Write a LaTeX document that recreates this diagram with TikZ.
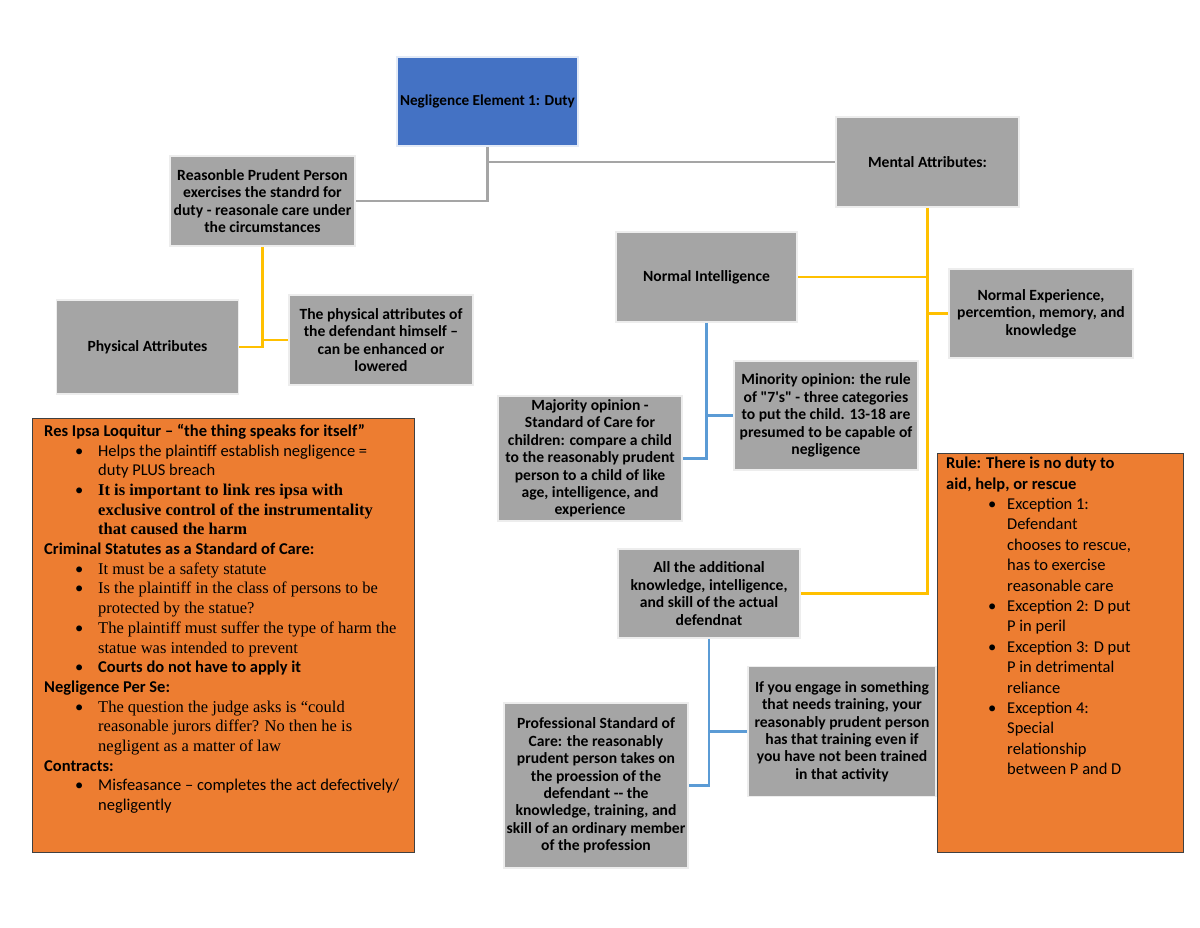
\documentclass[tikz,border=0pt]{standalone}
\usepackage{fontspec}
\setmainfont{Carlito}
\newfontfamily\carlitoplain{Carlito}[Ligatures=TeXOff]
\newfontfamily\cambriaf{Liberation Serif}
\definecolor{boxgray}{HTML}{A5A5A5}
\definecolor{boxedge}{HTML}{EDEDED}
\definecolor{duty}{HTML}{4472C4}
\definecolor{orng}{HTML}{ED7D31}
\definecolor{orngedge}{HTML}{404040}
\definecolor{ylw}{HTML}{FFC000}
\definecolor{lblue}{HTML}{5B9BD5}
\definecolor{lgray}{HTML}{A5A5A5}
\newcommand\bitem[1]{\hspace*{31pt}\makebox[23pt][l]{\textbullet}#1}
\newcommand\citem[1]{\hspace*{54pt}#1}
\newcommand\ritem[1]{\hspace*{42pt}\makebox[19pt][l]{\textbullet}#1}
\newcommand\rcont[1]{\hspace*{61pt}#1}
\begin{document}
\begin{tikzpicture}[x=1pt,y=-1pt,
  gbox/.style={fill=boxgray,draw=boxedge,line width=1.5pt,align=center,
    font=\bfseries\fontsize{15.6}{17.4}\selectfont,inner sep=1pt},
  obox/.style={fill=orng,draw=orngedge,line width=0.9pt},
  gline/.style={draw=lgray,line width=2.6pt},
  yline/.style={draw=ylw,line width=2.4pt},
  bline/.style={draw=lblue,line width=2.4pt}]
\useasboundingbox (0,0) rectangle (1200,927);
% boxes
\node[fill=duty,draw=white!85!duty,line width=1.5pt,minimum width=181pt,minimum height=89pt,
  font=\bfseries\fontsize{15.2}{16}\selectfont,inner sep=0pt] (duty) at (487.5,101.5) {Negligence Element 1: Duty};
\node[gbox,minimum width=183pt,minimum height=90pt] (mental) at (927.5,162) {Mental Attributes:};
\node[gbox,minimum width=185pt,minimum height=90pt] (reas) at (262.5,201)
  {Reasonble Prudent Person\\exercises the standrd for\\duty - reasonale care under\\the circumstances};
\node[gbox,minimum width=182pt,minimum height=94pt] (phys) at (147.5,347) {Physical Attributes};
\node[gbox,minimum width=184pt,minimum height=90pt] (physd) at (381,340)
  {The physical attributes of\\the defendant himself --\\can be enhanced or\\lowered};
\node[gbox,minimum width=181pt,minimum height=90pt] (normint) at (706.5,277) {Normal Intelligence};
\node[gbox,minimum width=184pt,minimum height=89pt] (normexp) at (1041,313.5)
  {Normal Experience,\\percemtion, memory, and\\knowledge};
\node[gbox,minimum width=184pt,minimum height=125pt] (major) at (590,458.5)
  {Majority opinion -\\Standard of Care for\\children: compare a child\\to the reasonably prudent\\person to a child of like\\age, intelligence, and\\experience};
\node[gbox,minimum width=184pt,minimum height=109pt] (minor) at (826,415.5)
  {Minority opinion: the rule\\of {\carlitoplain\bfseries "7's"} - three categories\\to put the child. 13-18 are\\presumed to be capable of\\negligence};
\node[gbox,minimum width=182pt,minimum height=89pt] (addl) at (709,593.5)
  {All the additional\\knowledge, intelligence,\\and skill of the actual\\defendnat};
\node[gbox,minimum width=188pt,minimum height=130pt] (ifyou) at (842,731.5)
  {If you engage in something\\that needs training, your\\reasonably prudent person\\has that training even if\\you have not been trained\\in that activity};
\node[gbox,minimum width=184pt,minimum height=165pt] (prof) at (596,785.5)
  {Professional Standard of\\Care: the reasonably\\prudent person takes on\\the proession of the\\defendant -{}- the\\knowledge, training, and\\skill of an ordinary member\\of the profession};
% orange boxes
\node[obox,minimum width=382pt,minimum height=434pt] (left) at (223,635) {};
\node[obox,minimum width=246pt,minimum height=399pt] (right) at (1060,652.5) {};
\node[anchor=north west,inner sep=0pt,align=left,font=\fontsize{16.5}{19.7}\selectfont] (lefttext) at (44,424)
 {\textbf{Res Ipsa Loquitur -- “the thing speaks for itself”}\\
  \bitem{Helps the plaintiff establish negligence =}\\
  \citem{duty PLUS breach}\\
  \bitem{\cambriaf\bfseries It is important to link res ipsa with}\\
  \citem{\cambriaf\bfseries exclusive control of the instrumentality}\\
  \citem{\cambriaf\bfseries that caused the harm}\\
  \textbf{Criminal Statutes as a Standard of Care:}\\
  \bitem{\cambriaf It must be a safety statute}\\
  \bitem{\cambriaf Is the plaintiff in the class of persons to be}\\
  \citem{\cambriaf protected by the statue?}\\
  \bitem{\cambriaf The plaintiff must suffer the type of harm the}\\
  \citem{\cambriaf statue was intended to prevent}\\
  \bitem{\bfseries Courts do not have to apply it}\\
  \textbf{Negligence Per Se:}\\
  \bitem{\cambriaf The question the judge asks is “could}\\
  \citem{\cambriaf reasonable jurors differ? No then he is}\\
  \citem{\cambriaf negligent as a matter of law}\\
  \textbf{Contracts:}\\
  \bitem{Misfeasance -- completes the act defectively/}\\
  \citem{negligently}};
\node[anchor=north west,inner sep=0pt,align=left,font=\fontsize{16.5}{20.4}\selectfont] (righttext) at (946,457)
 {\textbf{Rule: There is no duty to}\\
  \textbf{aid, help, or rescue}\\
  \ritem{Exception 1:}\\
  \rcont{Defendant}\\
  \rcont{chooses to rescue,}\\
  \rcont{has to exercise}\\
  \rcont{reasonable care}\\
  \ritem{Exception 2: D put}\\
  \rcont{P in peril}\\
  \ritem{Exception 3: D put}\\
  \rcont{P in detrimental}\\
  \rcont{reliance}\\
  \ritem{Exception 4:}\\
  \rcont{Special}\\
  \rcont{relationship}\\
  \rcont{between P and D}};
% connectors
\draw[gline] (duty.south) |- (reas.east);
\draw[gline] (duty.south |- mental.west) -- (mental.west);
\draw[yline] (reas.south) |- (phys.east);
\draw[yline] (reas.south |- physd.west) -- (physd.west);
\draw[yline] (mental.south) |- (addl.east);
\draw[yline] (mental.south |- normint.east) -- (normint.east);
\draw[yline] (mental.south |- normexp.west) -- (normexp.west);
\draw[bline] (normint.south) |- (major.east);
\draw[bline] (normint.south |- minor.west) -- (minor.west);
\draw[bline] (addl.south) |- (prof.east);
\draw[bline] (addl.south |- ifyou.west) -- (ifyou.west);
\end{tikzpicture}
\end{document}
